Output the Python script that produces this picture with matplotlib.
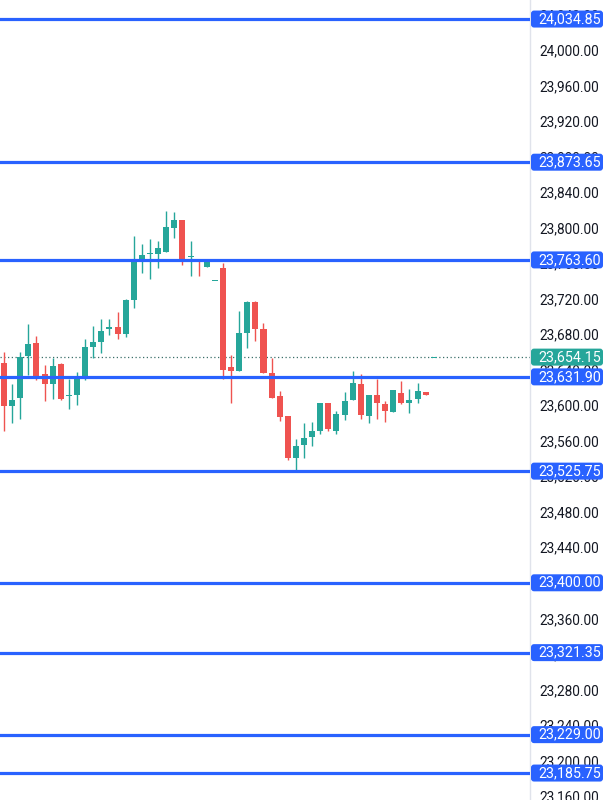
import matplotlib
matplotlib.use("Agg")
import matplotlib.pyplot as plt
import numpy as np
from matplotlib.patches import FancyBboxPatch
from matplotlib.transforms import IdentityTransform, blended_transform_factory
from matplotlib.ticker import FuncFormatter

plt.rcParams['font.family'] = ['Roboto', 'DejaVu Sans']

# ---- data (OHLC candles) ----
opens  = [23647, 23599, 23608, 23655, 23670, 23635, 23624, 23646, 23610, 23612,
          23629, 23666, 23671, 23686, 23688, 23680, 23719, 23763, 23770, 23770,
          23773, 23800, 23809, 23767, 23765, 23756, 23740, 23754, 23643, 23638,
          23681, 23716, 23686, 23636, 23610, 23588, 23541, 23555, 23564, 23571,
          23602, 23571, 23589, 23606, 23624, 23588, 23611, 23601, 23592, 23614,
          23602, 23607, 23615, 23654.15]
highs  = [23660, 23624, 23660, 23691, 23678, 23645, 23653, 23647, 23629, 23637,
          23674, 23689, 23697, 23697, 23705, 23720, 23791, 23782, 23787, 23785,
          23819, 23817, 23809, 23785, 23765, 23762, 23740, 23760, 23657, 23706,
          23717, 23717, 23692, 23653, 23616, 23588, 23562, 23580, 23581, 23603,
          23603, 23593, 23615, 23639, 23635, 23612, 23629, 23605, 23617, 23627,
          23618, 23625, 23615, 23654.15]
lows   = [23571, 23580, 23584, 23634, 23628, 23605, 23607, 23606, 23596, 23600,
          23628, 23653, 23659, 23679, 23675, 23677, 23709, 23749, 23742, 23755,
          23773, 23788, 23758, 23746, 23745, 23756, 23740, 23630, 23603, 23638,
          23664, 23672, 23636, 23608, 23582, 23538, 23527, 23540, 23554, 23568,
          23571, 23568, 23583, 23606, 23584, 23580, 23584, 23581, 23592, 23601,
          23591, 23602, 23612, 23654.15]
closes = [23599, 23606, 23654, 23669, 23633, 23624, 23644, 23607, 23612, 23629,
          23665, 23671, 23684, 23688, 23680, 23718, 23763, 23769, 23771, 23777,
          23801, 23808, 23764, 23768, 23763, 23762, 23740, 23640, 23639, 23681,
          23716, 23686, 23636, 23608, 23587, 23541, 23554, 23563, 23571, 23602,
          23573, 23590, 23605, 23625, 23589, 23612, 23603, 23593, 23617, 23603,
          23606, 23616, 23612, 23654.15]

levels = [24034.85, 23873.65, 23763.60, 23631.90, 23525.75,
          23400.00, 23321.35, 23229.00, 23185.75]
last_price = 23654.15
tick_values = list(range(23160, 24041, 40))

GREEN = '#26a69a'
RED = '#ef5350'
BLUE = '#2962ff'

fig = plt.figure(figsize=(6.12, 8), dpi=100)
fig.patch.set_facecolor('white')
ax = fig.add_axes([0, 0, 530 / 612, 1])
ax.set_facecolor('white')

x = np.arange(len(opens))
o = np.array(opens, float)
c = np.array(closes, float)
h = np.array(highs, float)
l = np.array(lows, float)
cols = [GREEN if cc >= oo else RED for oo, cc in zip(o, c)]
bottoms = np.minimum(o, c)
heights = np.maximum(np.abs(c - o), 1.3)
bottoms = np.where(np.abs(c - o) < 1.3, (o + c) / 2 - 0.65, bottoms)

ax.vlines(x, l, h, colors=cols, lw=1.0, zorder=3)
ax.bar(x, heights, bottom=bottoms, width=0.74, color=cols, zorder=4, linewidth=0)

ax.set_xlim(-0.49, 64.86)
ax.set_ylim(23155.4, 24056.3)

for lv in levels:
    ax.axhline(lv, color=BLUE, lw=2.3, zorder=5)
ax.axhline(last_price, color='#3b6f69', lw=0.9, ls=(0, (1, 2)), zorder=2)

ax.set_xticks([])
ax.yaxis.tick_right()
ax.set_yticks(tick_values)
ax.yaxis.set_major_formatter(FuncFormatter(lambda v, p: f'{v:,.2f}'))
ax.tick_params(axis='y', length=0, pad=7, labelsize=9.8, labelcolor='#131722')
for s in ['top', 'left', 'bottom']:
    ax.spines[s].set_visible(False)
ax.spines['right'].set_color('#e0e3eb')
ax.spines['right'].set_linewidth(1)

# price labels on the axis
txt_tr = blended_transform_factory(fig.transFigure, ax.transData)
def add_label(value, color):
    y_disp = ax.transData.transform((0, value))[1]
    box = FancyBboxPatch((531, y_disp - 8.5), 72, 17,
                         boxstyle='round,pad=0,rounding_size=3',
                         transform=IdentityTransform(), fc=color, ec='none',
                         zorder=5)
    fig.add_artist(box)
    fig.text(538.5 / 612, value, f'{value:,.2f}', transform=txt_tr,
             ha='left', va='center', color='white', fontsize=10.3, zorder=6)

add_label(last_price, GREEN)
for lv in levels:
    add_label(lv, BLUE)

fig.savefig('out.png', dpi=100, facecolor='white')
